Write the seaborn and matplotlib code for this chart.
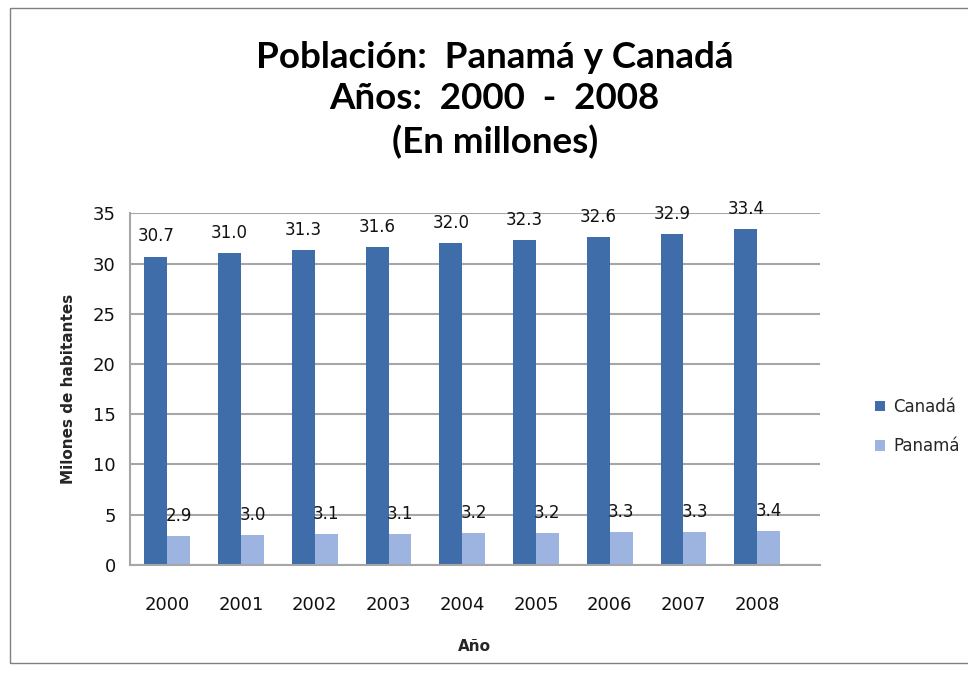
import numpy as np
import pandas as pd
import matplotlib.pyplot as plt
import seaborn as sns
from matplotlib.patches import Rectangle

years = ["2000", "2001", "2002", "2003", "2004", "2005", "2006", "2007", "2008"]
canada = [30.7, 31.0, 31.3, 31.6, 32.0, 32.3, 32.6, 32.9, 33.4]
panama = [2.9, 3.0, 3.1, 3.1, 3.2, 3.2, 3.3, 3.3, 3.4]
series_names = ["Canadá", "Panamá"]
colors = {"Canadá": "#3F6DAA", "Panamá": "#9DB4E0"}

df = pd.DataFrame({
    "Año": years * 2,
    "valor": canada + panama,
    "pais": [series_names[0]] * len(years) + [series_names[1]] * len(years),
})

sns.set_theme(style="white")
plt.rcParams["font.family"] = ["DejaVu Sans"]

fig = plt.figure(figsize=(9.68, 6.75), dpi=100)
ax = fig.add_axes([0.134, 0.163, 0.713, 0.521])

# outer chart border
fig.patches.append(Rectangle((0.010, 0.018), 0.995, 0.970, transform=fig.transFigure,
                             fill=False, edgecolor="#808080", linewidth=1.0))

sns.barplot(data=df, x="Año", y="valor", hue="pais", palette=colors, saturation=1,
            width=0.62, ax=ax, legend=True, edgecolor="none")

for cont in ax.containers:
    ax.bar_label(cont, fmt="%.1f", padding=8, fontsize=12, color="#111111")

ax.set_ylim(0, 35)
ax.set_yticks(range(0, 36, 5))
ax.set_xlim(-0.51, 8.85)
ax.yaxis.grid(True, color="#A6A6A6", linewidth=1.5)
ax.set_axisbelow(True)
for s in ["top", "right"]:
    ax.spines[s].set_visible(False)
ax.spines["left"].set_color("#A6A6A6")
ax.spines["bottom"].set_color("#A6A6A6")
ax.spines["left"].set_linewidth(1.5)
ax.spines["bottom"].set_linewidth(1.5)
ax.tick_params(axis="both", labelsize=13, colors="#111111", length=0, pad=10)
ax.tick_params(axis="x", pad=22)

ax.set_xlabel("Año", fontsize=11, fontweight="bold", labelpad=18)
ax.set_ylabel("Milones de habitantes", fontsize=11, fontweight="bold", labelpad=12)

handles, labels = ax.get_legend_handles_labels()
ax.legend_.remove()
fig.legend(handles, labels, loc="center left", bbox_to_anchor=(0.888, 0.368),
           frameon=False, fontsize=12, handlelength=0.6, handleheight=0.6,
           labelspacing=1.3, handletextpad=0.5)

fig.text(0.511, 0.852, "Población:  Panamá y Canadá\nAños:  2000  -  2008\n(En millones)",
         ha="center", va="center", fontsize=26.5, fontweight="bold", color="black",
         family=["Lato", "DejaVu Sans"], linespacing=1.33)

fig.savefig("out.png", dpi=100)
